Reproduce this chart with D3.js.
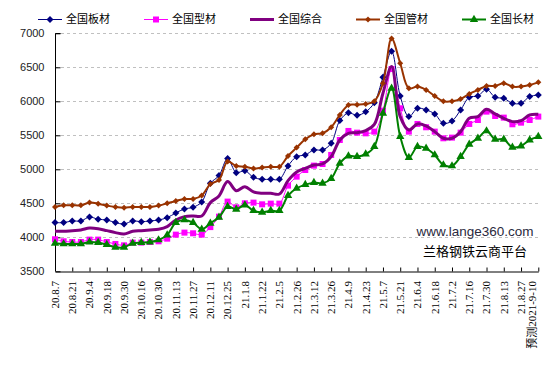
<!DOCTYPE html>
<html><head><meta charset="utf-8">
<script src="https://cdn.jsdelivr.net/npm/d3@7"></script>
<style>
html,body{margin:0;padding:0;background:#fff;}
svg{display:block;}
</style></head>
<body>
<svg id="chart" width="557" height="367"></svg>
<script>
const categories = ["20.8.7","20.8.14","20.8.21","20.8.28","20.9.4","20.9.11","20.9.18","20.9.25","20.9.30","20.10.9",
"20.10.16","20.10.23","20.10.30","20.11.6","20.11.13","20.11.20","20.11.27","20.12.4","20.12.11","20.12.18",
"20.12.25","21.1.1","21.1.8","21.1.15","21.1.22","21.1.29","21.2.5","21.2.19","21.2.26","21.3.5",
"21.3.12","21.3.19","21.3.26","21.4.2","21.4.9","21.4.16","21.4.23","21.4.30","21.5.7","21.5.14",
"21.5.21","21.5.28","21.6.4","21.6.11","21.6.18","21.6.25","21.7.2","21.7.9","21.7.16","21.7.23",
"21.7.30","21.8.6","21.8.13","21.8.20","21.8.27","21.9.3","预测2021-9-10"];

const plate = [4216,4216,4240,4240,4299,4265,4255,4216,4196,4240,4230,4240,4255,4289,4358,4417,4441,4520,4794,4907,
5157,4951,4980,4882,4853,4853,4853,5049,5186,5211,5284,5284,5382,5716,5830,5794,5845,5980,6353,6735,
6078,5775,5897,5873,5814,5676,5711,5873,6059,6078,6176,6059,6044,5971,5971,6069,6093];
const section = [3971,3941,3931,3931,3966,3966,3931,3902,3882,3922,3922,3931,3941,3980,4039,4069,4059,4039,4150,4304,
4525,4441,4500,4510,4485,4495,4495,4760,4892,4990,5054,5078,5211,5431,5564,5539,5529,5554,5863,6475,
5897,5554,5667,5618,5554,5456,5466,5539,5667,5725,5848,5784,5760,5662,5686,5725,5775];
const composite = [4088,4088,4098,4108,4137,4127,4098,4069,4049,4088,4098,4108,4118,4157,4255,4304,4314,4314,4510,4608,
4819,4686,4745,4667,4647,4647,4637,4833,4961,5015,5064,5078,5186,5431,5529,5539,5569,5660,6118,6510,
5775,5578,5667,5637,5554,5456,5456,5554,5750,5775,5882,5814,5750,5701,5716,5799,5809];
const pipe = [4446,4471,4471,4471,4510,4495,4466,4446,4436,4446,4446,4446,4466,4500,4534,4564,4564,4615,4784,4843,
5113,5049,5039,5010,5025,5039,5039,5196,5319,5441,5515,5529,5618,5799,5945,5950,5960,6000,6265,6922,
6559,6191,6216,6167,6078,6000,6000,6034,6108,6167,6225,6225,6265,6216,6216,6240,6280];
const longProd = [3912,3902,3902,3902,3931,3922,3892,3853,3853,3912,3922,3931,3961,4034,4216,4255,4216,4118,4206,4294,
4451,4412,4475,4392,4368,4392,4392,4613,4721,4775,4804,4794,4863,5088,5196,5186,5225,5333,5824,6191,
5480,5172,5333,5309,5211,5064,5049,5186,5368,5456,5564,5441,5441,5323,5343,5431,5480];

const seriesNames = ["全国板材","全国型材","全国综合","全国管材","全国长材"];
const yTicks = [3500,4000,4500,5000,5500,6000,6500,7000];
const watermark = ["www.lange360.com","兰格钢铁云商平台"];

const diamond = {draw(ctx, size){const r=Math.sqrt(size)/2;ctx.moveTo(0,-r);ctx.lineTo(r,0);ctx.lineTo(0,r);ctx.lineTo(-r,0);ctx.closePath();}};
const series = [
  {name:seriesNames[0], values:plate, color:"#000080", width:1, symbol:diamond, size:49},
  {name:seriesNames[1], values:section, color:"#ff00ff", width:1, symbol:d3.symbolSquare, size:36},
  {name:seriesNames[2], values:composite, color:"#800080", width:3, symbol:null, size:0},
  {name:seriesNames[3], values:pipe, color:"#993300", width:2, symbol:diamond, size:36},
  {name:seriesNames[4], values:longProd, color:"#008000", width:2, symbol:d3.symbolTriangle, size:30}
];

const svg = d3.select("#chart");
const x = d3.scalePoint().domain(categories).range([55, 538.3]);
const y = d3.scaleLinear().domain([3500, 7000]).range([271.3, 33.3]);

// gridlines
svg.append("g").selectAll("line").data(yTicks.filter(d=>d>3500)).join("line")
  .attr("x1",55).attr("x2",538).attr("y1",d=>Math.round(y(d))+0.5).attr("y2",d=>Math.round(y(d))+0.5)
  .attr("stroke","#c0c0c0").attr("stroke-dasharray","3,3");

// y axis
const yAxis = d3.axisLeft(y).tickValues(yTicks).tickSize(-5).tickPadding(11).tickFormat(d3.format("d"));
const gy = svg.append("g").attr("transform","translate(55.5,0)").call(yAxis);
gy.select(".domain").attr("stroke","#000").attr("d","M5,"+(Math.round(y(7000))+0.5)+"H0V"+(Math.round(y(3500))+0.5));
gy.selectAll(".tick line").attr("stroke","#000");
gy.selectAll("text").attr("font-family","Liberation Sans, Arial, sans-serif").attr("font-size","11px").attr("fill","#222");

// x axis
const xAxis = d3.axisBottom(x).tickValues(categories.filter((d,i)=>i%2===0)).tickSize(-4).tickSizeOuter(0).tickFormat("");
const gx = svg.append("g").attr("transform","translate(0,"+(Math.round(y(3500))+0.5)+")").call(xAxis);
gx.select(".domain").attr("stroke","#000");
gx.selectAll(".tick line").attr("stroke","#000");
gx.selectAll(".tick").filter((d,i)=>i===0).select("line").remove();

svg.append("g").selectAll("text").data(categories.filter((d,i)=>i%2===0)).join("text")
  .attr("transform",(d,i,a)=>{const last = i===a.length-1; return "translate("+(x(d)+ (last?-6:0))+",281) rotate(-90)";})
  .attr("text-anchor","end").attr("dy","0.35em")
  .attr("font-family","Liberation Serif, 'Noto Sans CJK SC', serif").attr("font-size","11px").attr("fill","#000")
  .text(d=>d);

// lines
const line = d3.line().x((d,i)=>x(categories[i])).y(d=>y(d)).curve(d3.curveCatmullRom.alpha(0.5));
series.forEach(s=>{
  const g = svg.append("g");
  g.append("path").datum(s.values).attr("d",line).attr("fill","none").attr("stroke",s.color).attr("stroke-width",s.width).attr("stroke-linejoin","round");
  if (s.symbol) {
    g.selectAll("path.m").data(s.values).join("path").attr("class","m")
      .attr("transform",(d,i)=>"translate("+x(categories[i])+","+y(d)+")")
      .attr("d",d3.symbol().type(s.symbol).size(s.size)).attr("fill",s.color);
  }
});

// legend
const leg = svg.append("g");
series.forEach((s,i)=>{
  const lx = 38 + i*106, ly = 19.5;
  leg.append("line").attr("x1",lx).attr("x2",lx+24).attr("y1",ly).attr("y2",ly).attr("stroke",s.color).attr("stroke-width",s.width);
  if (s.symbol) leg.append("path").attr("transform","translate("+(lx+12)+","+ly+")").attr("d",d3.symbol().type(s.symbol).size(s.size)).attr("fill",s.color);
  leg.append("text").attr("x",lx+28).attr("y",ly).attr("dy","0.36em")
    .attr("font-family","'Noto Sans CJK SC', sans-serif").attr("font-size","11px").attr("fill","#000").text(s.name);
});

// watermark
svg.append("text").attr("x",475).attr("y",231).attr("dy","0.35em").attr("text-anchor","middle")
  .attr("font-family","Liberation Sans, Arial, sans-serif").attr("font-size","13.5px").attr("fill","#2a2a40").text(watermark[0]);
svg.append("text").attr("x",475).attr("y",251).attr("dy","0.36em").attr("text-anchor","middle")
  .attr("font-family","'Noto Sans CJK SC', sans-serif").attr("font-size","13px").attr("fill","#000").text(watermark[1]);
</script>
</body></html>
